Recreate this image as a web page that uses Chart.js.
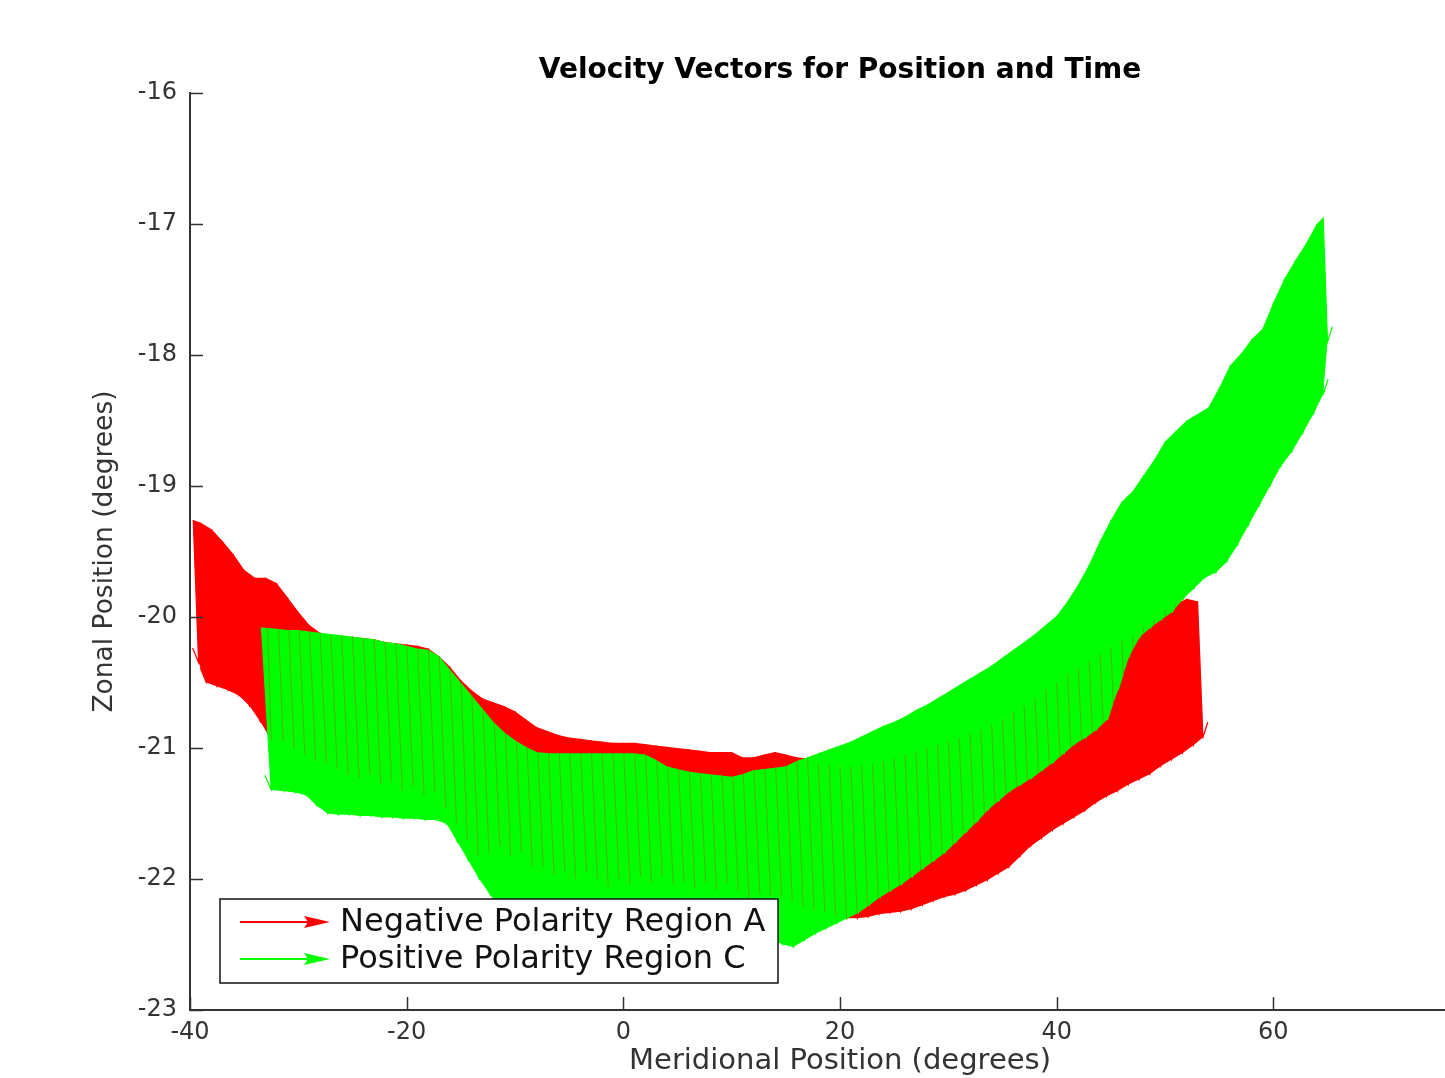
<!DOCTYPE html>
<html>
<head>
<meta charset="utf-8">
<title>Velocity Vectors for Position and Time</title>
<script src="https://cdn.jsdelivr.net/npm/chart.js@4.4.1/dist/chart.umd.min.js"></script>
<style>
  html, body { margin: 0; padding: 0; background: #fff; overflow: hidden; }
  #quiverChart { display: block; }
</style>
</head>
<body>
<canvas id="quiverChart" width="1680" height="1100"></canvas>
<script>
// 坐标轴刻度
const xTicks = [-40, -20, 0, 20, 40, 60, 80];
const yTicks = [-23, -22, -21, -20, -19, -18, -17, -16];

// 负极性区域 A：箭头起点 (x, y) 和分量 (u, v)，单位 degrees
const redX = [-39.7, -39, -38, -37, -36, -35, -34, -33, -32, -31,
  -30, -29, -28, -27, -26, -25, -24, -23, -22, -21,
  -20, -19, -18, -17, -16, -15, -14, -13, -12, -11,
  -10, -9, -8, -7, -6, -5, -4, -3, -2, -1,
  0, 1, 2, 3, 4, 5, 6, 7, 8, 9,
  10, 11, 12, 13, 14, 15, 16, 17, 18, 19,
  20, 21, 22, 23, 24, 25, 26, 27, 28, 29,
  30, 31, 32, 33, 34, 35, 36, 37, 38, 39,
  40, 41, 42, 43, 44, 45, 46, 47, 48, 49,
  50, 51, 52, 53];
const redY = [-19.26, -19.28, -19.33, -19.42, -19.52, -19.64, -19.70, -19.70, -19.74, -19.85,
  -19.96, -20.06, -20.12, -20.14, -20.15, -20.15, -20.16, -20.17, -20.19, -20.20,
  -20.21, -20.22, -20.24, -20.30, -20.38, -20.48, -20.56, -20.62, -20.65, -20.68,
  -20.72, -20.78, -20.84, -20.87, -20.90, -20.92, -20.93, -20.94, -20.95, -20.96,
  -20.96, -20.96, -20.97, -20.98, -20.99, -21.00, -21.01, -21.02, -21.03, -21.03,
  -21.03, -21.07, -21.07, -21.05, -21.03, -21.05, -21.07, -21.08, -21.12, -21.13,
  -21.14, -21.14, -21.13, -21.12, -21.10, -21.08, -21.05, -21.03, -21.00, -20.98,
  -20.95, -20.92, -20.89, -20.86, -20.82, -20.78, -20.73, -20.68, -20.62, -20.56,
  -20.50, -20.44, -20.39, -20.34, -20.28, -20.23, -20.18, -20.14, -20.08, -20.02,
  -19.95, -19.90, -19.86, -19.88];
const redU = [0.5, 0.5, 0.5, 0.5, 0.5, 0.5, 0.5, 0.5, 0.6, 0.6,
  0.6, 0.6, 0.6, 0.6, 0.6, 0.6, 0.6, 0.6, 0.6, 0.6,
  0.6, 0.6, 0.6, 0.6, 0.6, 0.6, 0.6, 0.6, 0.6, 0.6,
  0.6, 0.6, 0.6, 0.6, 0.6, 0.6, 0.6, 0.6, 0.6, 0.6,
  0.6, 0.6, 0.6, 0.6, 0.6, 0.6, 0.6, 0.6, 0.6, 0.6,
  0.6, 0.6, 0.6, 0.6, 0.6, 0.6, 0.6, 0.6, 0.6, 0.6,
  0.6, 0.6, 0.6, 0.6, 0.6, 0.6, 0.6, 0.6, 0.6, 0.6,
  0.6, 0.6, 0.6, 0.6, 0.6, 0.6, 0.6, 0.6, 0.6, 0.6,
  0.6, 0.6, 0.6, 0.6, 0.6, 0.6, 0.6, 0.6, 0.6, 0.6,
  0.6, 0.6, 0.6, 0.5];
const redV = [-1.09, -1.22, -1.20, -1.14, -1.08, -1.04, -1.10, -1.24, -1.21, -1.15,
  -1.09, -1.04, -1.00, -1.02, -1.05, -1.08, -1.04, -1.10, -1.06, -1.12,
  -1.08, -1.14, -1.10, -1.16, -1.20, -1.22, -1.26, -1.18, -1.10, -1.14,
  -1.08, -1.12, -1.06, -1.10, -1.04, -1.08, -1.02, -1.06, -1.11, -1.04,
  -1.08, -1.02, -1.06, -1.00, -1.05, -1.02, -1.06, -1.01, -1.05, -1.00,
  -1.06, -1.09, -1.04, -1.08, -1.10, -1.12, -1.14, -1.15, -1.13, -1.15,
  -1.16, -1.16, -1.16, -1.15, -1.16, -1.17, -1.18, -1.17, -1.17, -1.16,
  -1.17, -1.17, -1.16, -1.15, -1.14, -1.13, -1.10, -1.07, -1.07, -1.07,
  -1.08, -1.09, -1.09, -1.08, -1.09, -1.10, -1.10, -1.10, -1.12, -1.12,
  -1.14, -1.14, -1.12, -1.04];

// 正极性区域 C
const greenX = [-33.4, -32, -31, -30, -29, -28, -27, -26, -25, -24, -23,
  -22, -21, -20, -19, -18, -17, -16, -15, -14, -13,
  -12, -11, -10, -9, -8, -7, -6, -5, -4, -3,
  -2, -1, 0, 1, 2, 3, 4, 5, 6, 7,
  8, 9, 10, 11, 12, 13, 14, 15, 16, 17,
  18, 19, 20, 21, 22, 23, 24, 25, 26, 27,
  28, 29, 30, 31, 32, 33, 34, 35, 36, 37,
  38, 39, 40, 41, 42, 43, 44, 45, 46, 47,
  48, 49, 50, 51, 52, 53, 54, 55, 56, 57,
  58, 59, 60, 61, 62, 63, 64, 64.6];
const greenY = [-20.08, -20.09, -20.10, -20.10, -20.11, -20.12, -20.13, -20.14, -20.15, -20.16, -20.17,
  -20.19, -20.20, -20.22, -20.24, -20.25, -20.30, -20.40, -20.50, -20.60, -20.70,
  -20.80, -20.88, -20.94, -20.99, -21.03, -21.04, -21.04, -21.04, -21.04, -21.04,
  -21.04, -21.04, -21.04, -21.04, -21.05, -21.09, -21.14, -21.16, -21.18, -21.19,
  -21.20, -21.21, -21.22, -21.20, -21.17, -21.16, -21.15, -21.14, -21.10, -21.07,
  -21.04, -21.01, -20.98, -20.95, -20.91, -20.87, -20.83, -20.80, -20.76, -20.71,
  -20.67, -20.62, -20.57, -20.52, -20.47, -20.42, -20.37, -20.31, -20.25, -20.19,
  -20.13, -20.06, -19.99, -19.88, -19.75, -19.60, -19.42, -19.26, -19.12, -19.04,
  -18.92, -18.80, -18.66, -18.58, -18.50, -18.45, -18.40, -18.25, -18.08, -17.99,
  -17.88, -17.80, -17.60, -17.42, -17.28, -17.15, -17.00, -16.95];
const greenU = [0.9, 0.7, 0.7, 0.7, 0.7, 0.7, 0.7, 0.7, 0.7, 0.7, 0.7,
  0.7, 0.7, 0.7, 0.7, 0.7, 0.7, 0.7, 0.7, 0.7, 0.7,
  0.7, 0.7, 0.7, 0.7, 0.7, 0.7, 0.7, 0.7, 0.7, 0.7,
  0.7, 0.7, 0.7, 0.7, 0.7, 0.7, 0.7, 0.7, 0.7, 0.7,
  0.7, 0.7, 0.7, 0.7, 0.7, 0.7, 0.7, 0.7, 0.7, 0.7,
  0.7, 0.7, 0.7, 0.7, 0.7, 0.7, 0.7, 0.7, 0.7, 0.7,
  0.7, 0.7, 0.7, 0.7, 0.7, 0.7, 0.7, 0.7, 0.7, 0.7,
  0.7, 0.7, 0.7, 0.7, 0.7, 0.7, 0.7, 0.7, 0.7, 0.7,
  0.7, 0.7, 0.7, 0.7, 0.7, 0.7, 0.7, 0.7, 0.7, 0.7,
  0.7, 0.7, 0.7, 0.7, 0.7, 0.7, 0.6, 0.4];
const greenV = [-1.24, -1.24, -1.24, -1.26, -1.33, -1.38, -1.38, -1.37, -1.37, -1.36, -1.36,
  -1.34, -1.34, -1.32, -1.31, -1.30, -1.28, -1.32, -1.36, -1.40, -1.42,
  -1.44, -1.42, -1.38, -1.35, -1.32, -1.32, -1.33, -1.34, -1.33, -1.35,
  -1.34, -1.36, -1.35, -1.34, -1.35, -1.31, -1.27, -1.26, -1.25, -1.24,
  -1.24, -1.24, -1.23, -1.26, -1.28, -1.30, -1.35, -1.38, -1.37, -1.35,
  -1.34, -1.33, -1.32, -1.31, -1.29, -1.27, -1.26, -1.24, -1.22, -1.21,
  -1.19, -1.18, -1.15, -1.12, -1.09, -1.05, -1.03, -1.02, -1.03, -1.04,
  -1.04, -1.05, -1.05, -1.09, -1.17, -1.26, -1.36, -1.29, -1.18, -1.11,
  -1.16, -1.22, -1.30, -1.28, -1.28, -1.25, -1.26, -1.33, -1.37, -1.31,
  -1.27, -1.20, -1.25, -1.32, -1.32, -1.30, -1.30, -0.95];

const seriesNames = ['Negative Polarity Region A', 'Positive Polarity Region C'];
const seriesColors = ['#ff0000', '#00ff00'];

const FONT = 'DejaVu Sans';
const AXIS_COLOR = '#333333';

/**
 * 把一组箭头转成像素坐标
 */
function arrowPixels(chart, xs, ys, us, vs) {
  const sx = chart.scales.x, sy = chart.scales.y;
  return xs.map((x, i) => ({
    x0: sx.getPixelForValue(x),
    y0: sy.getPixelForValue(ys[i]),
    x1: sx.getPixelForValue(x + us[i]),
    y1: sy.getPixelForValue(ys[i] + vs[i])
  }));
}

function drawHead(ctx, a, len, spread) {
  const ang = Math.atan2(a.y1 - a.y0, a.x1 - a.x0);
  ctx.moveTo(a.x1 - len * Math.cos(ang - spread), a.y1 - len * Math.sin(ang - spread));
  ctx.lineTo(a.x1, a.y1);
  ctx.lineTo(a.x1 - len * Math.cos(ang + spread), a.y1 - len * Math.sin(ang + spread));
}

// 画一组箭头：箭杆铺满成带状，再加箭头
function drawQuiver(ctx, arrows, color) {
  ctx.fillStyle = color;
  ctx.strokeStyle = color;
  ctx.beginPath();
  arrows.forEach((a, i) => (i ? ctx.lineTo(a.x0, a.y0) : ctx.moveTo(a.x0, a.y0)));
  for (let i = arrows.length - 1; i >= 0; i--) ctx.lineTo(arrows[i].x1, arrows[i].y1);
  ctx.closePath();
  ctx.fill();

  ctx.lineWidth = 1.2;
  ctx.beginPath();
  arrows.forEach(a => {
    ctx.moveTo(a.x0, a.y0);
    ctx.lineTo(a.x1, a.y1);
    drawHead(ctx, a, 16, 0.35);
  });
  ctx.stroke();
}

const quiverPlugin = {
  id: 'quiver',
  afterDatasetsDraw(chart) {
    const {ctx, chartArea: ca} = chart;
    const red = arrowPixels(chart, redX, redY, redU, redV);
    const green = arrowPixels(chart, greenX, greenY, greenU, greenV);
    ctx.save();
    ctx.beginPath();
    ctx.rect(ca.left, ca.top, ca.right - ca.left, ca.bottom - ca.top);
    ctx.clip();
    drawQuiver(ctx, red, seriesColors[0]);
    drawQuiver(ctx, green, seriesColors[1]);
    // 被绿色覆盖的红色箭杆透出来的暗纹
    ctx.globalAlpha = 0.25;
    ctx.strokeStyle = seriesColors[0];
    ctx.lineWidth = 1.2;
    ctx.beginPath();
    red.forEach(a => { ctx.moveTo(a.x0, a.y0); ctx.lineTo(a.x1, a.y1); });
    ctx.stroke();
    ctx.restore();
  },
  afterDraw(chart) {
    const {ctx, chartArea: ca} = chart;
    const sx = chart.scales.x, sy = chart.scales.y;
    ctx.save();
    // 刻度线朝内
    ctx.strokeStyle = AXIS_COLOR;
    ctx.lineWidth = 1.5;
    ctx.beginPath();
    xTicks.forEach(v => {
      const px = Math.round(sx.getPixelForValue(v)) + 0.5;
      ctx.moveTo(px, ca.bottom);
      ctx.lineTo(px, ca.bottom - 13);
    });
    yTicks.forEach(v => {
      const py = Math.round(sy.getPixelForValue(v)) + 0.5;
      ctx.moveTo(ca.left, py);
      ctx.lineTo(ca.left + 13, py);
    });
    ctx.stroke();

    // 图例
    const bx = ca.left + 30, by = ca.bottom - 111, bw = 558, bh = 84;
    ctx.fillStyle = '#ffffff';
    ctx.fillRect(bx, by, bw, bh);
    ctx.strokeStyle = '#111111';
    ctx.lineWidth = 1.5;
    ctx.strokeRect(bx, by, bw, bh);
    ctx.font = '32px "' + FONT + '"';
    ctx.textBaseline = 'middle';
    ctx.textAlign = 'left';
    seriesNames.forEach((name, i) => {
      const cy = by + 23 + i * 37;
      const x0 = bx + 20, x1 = bx + 110;
      ctx.strokeStyle = seriesColors[i];
      ctx.fillStyle = seriesColors[i];
      ctx.lineWidth = 2;
      ctx.beginPath();
      ctx.moveTo(x0, cy);
      ctx.lineTo(x1 - 6, cy);
      ctx.stroke();
      ctx.beginPath();
      ctx.moveTo(x1, cy);
      ctx.lineTo(x1 - 26, cy - 6);
      ctx.lineTo(x1 - 22, cy);
      ctx.lineTo(x1 - 26, cy + 6);
      ctx.closePath();
      ctx.fill();
      ctx.fillStyle = '#111111';
      ctx.fillText(name, bx + 120, cy + 1);
    });
    ctx.restore();
  }
};

const ctx = document.getElementById('quiverChart').getContext('2d');
new Chart(ctx, {
  type: 'scatter',
  data: {
    datasets: [
      {
        label: seriesNames[0],
        data: redX.map((x, i) => ({x, y: redY[i]})),
        pointRadius: 0,
        borderColor: seriesColors[0],
        backgroundColor: seriesColors[0]
      },
      {
        label: seriesNames[1],
        data: greenX.map((x, i) => ({x, y: greenY[i]})),
        pointRadius: 0,
        borderColor: seriesColors[1],
        backgroundColor: seriesColors[1]
      }
    ]
  },
  options: {
    responsive: false,
    animation: false,
    devicePixelRatio: 1,
    events: [],
    layout: { padding: { left: 0, right: 190, top: 0, bottom: 0 } },
    plugins: {
      legend: { display: false },
      tooltip: { enabled: false },
      title: {
        display: true,
        fullSize: false,
        text: 'Velocity Vectors for Position and Time',
        color: '#000000',
        font: { family: FONT, size: 28, weight: 'bold' },
        padding: { top: 54, bottom: 5.4 }
      }
    },
    scales: {
      x: {
        type: 'linear',
        min: -40,
        max: 80,
        afterBuildTicks: s => { s.ticks = xTicks.map(v => ({value: v})); },
        afterFit: s => { s.height = 90; },
        grid: { display: false, drawTicks: false },
        border: { display: true, color: AXIS_COLOR, width: 2 },
        ticks: {
          color: AXIS_COLOR,
          padding: 8,
          maxRotation: 0,
          font: { family: FONT, size: 24 },
          callback: v => String(v)
        },
        title: {
          display: true,
          text: 'Meridional Position (degrees)',
          color: AXIS_COLOR,
          font: { family: FONT, size: 29 },
          padding: { top: 0, bottom: 21.6 }
        }
      },
      y: {
        type: 'linear',
        min: -23,
        max: -16,
        afterBuildTicks: s => { s.ticks = yTicks.map(v => ({value: v})); },
        afterFit: s => { s.width = 190; },
        grid: { display: false, drawTicks: false },
        border: { display: true, color: AXIS_COLOR, width: 2 },
        ticks: {
          color: AXIS_COLOR,
          padding: 13,
          font: { family: FONT, size: 24 },
          callback: v => String(v)
        },
        title: {
          display: true,
          text: 'Zonal Position (degrees)',
          color: AXIS_COLOR,
          font: { family: FONT, size: 26.5 },
          padding: { top: 89, bottom: 0 }
        }
      }
    }
  },
  plugins: [quiverPlugin]
});
</script>
</body>
</html>
